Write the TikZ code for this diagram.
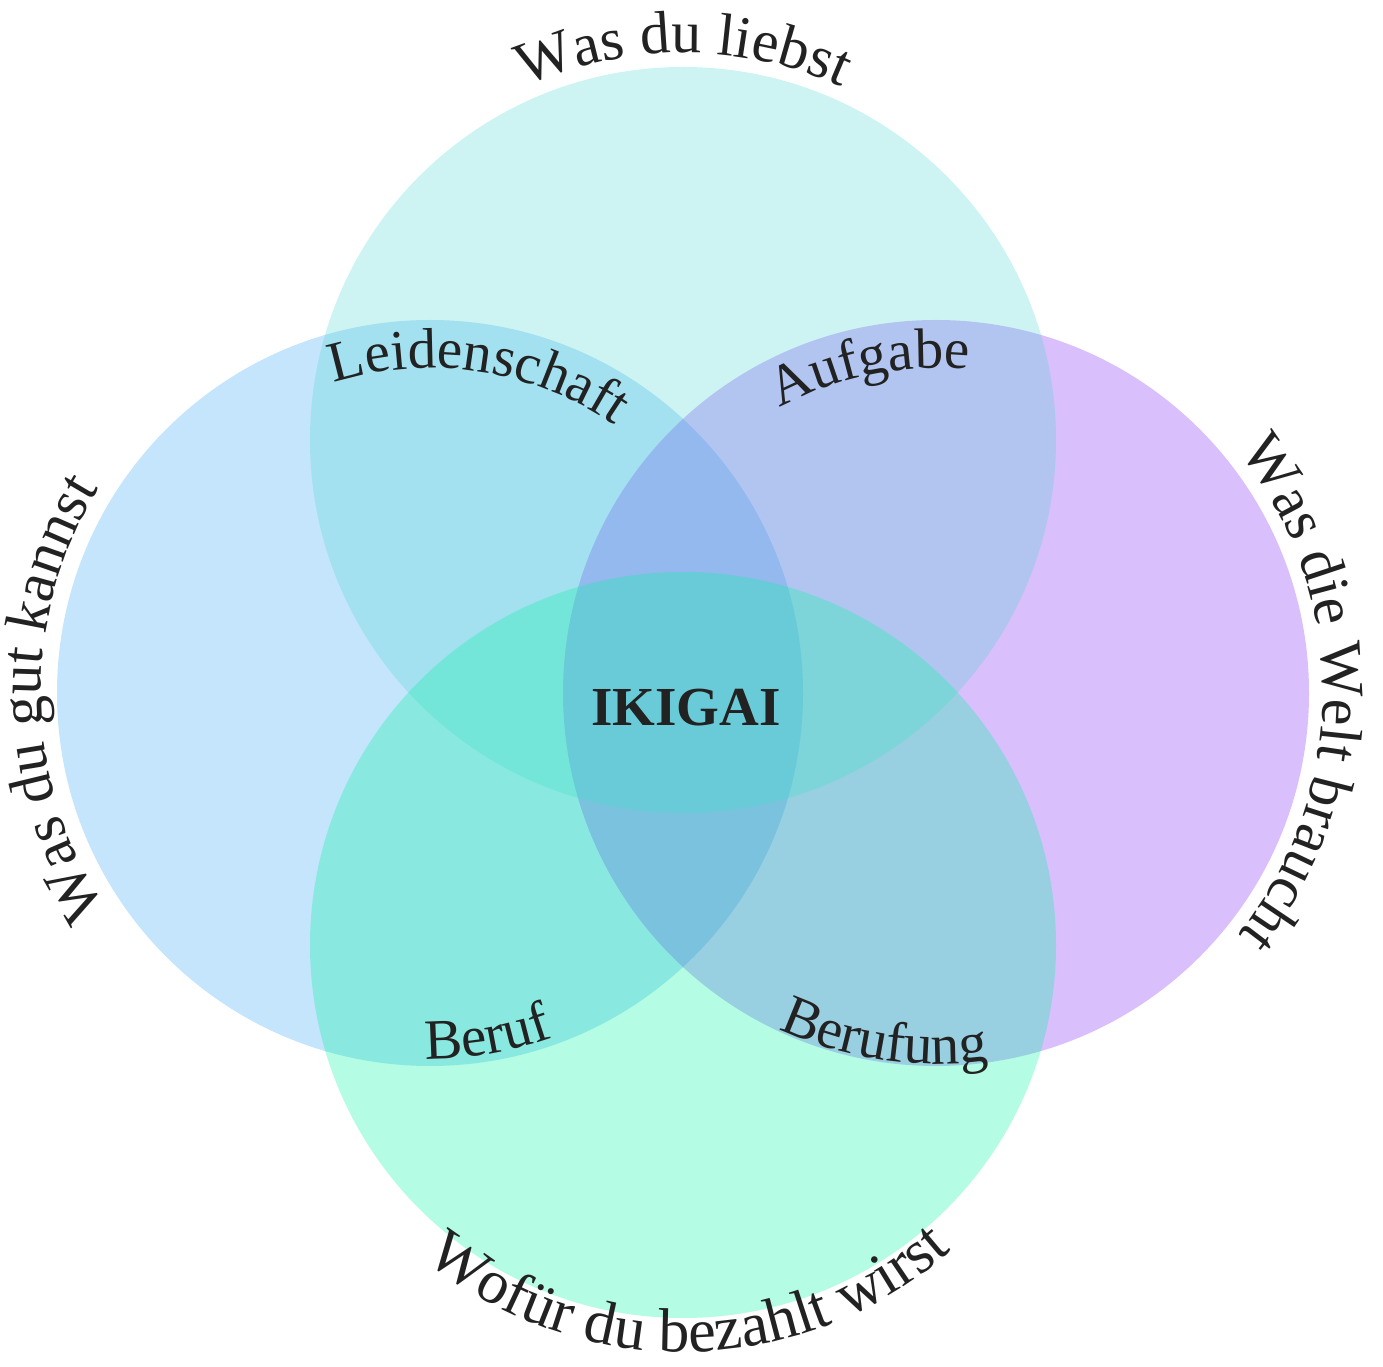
\documentclass[tikz,border=0pt]{standalone}
\usepackage{fontspec}
\setmainfont{Liberation Serif}
\usetikzlibrary{decorations.text}
\definecolor{ctop}{RGB}{88,215,215}
\definecolor{cleft}{RGB}{58,168,242}
\definecolor{cright}{RGB}{128,42,242}
\definecolor{cbottom}{RGB}{5,245,165}
\definecolor{txt}{RGB}{34,34,34}
\newcommand\outerfont{\fontsize{60}{72}\selectfont}
\newcommand\bottomfont{\fontsize{62}{74}\selectfont}
\newcommand\innerfont{\fontsize{57}{68}\selectfont}
\tikzset{
  venn/.style={fill opacity=0.3, draw=none},
  curvetext/.style={decorate, decoration={text along path, text align=center, text color=txt, text={#1}}}
}
\begin{document}
\begin{tikzpicture}[x=1pt,y=1pt]
\useasboundingbox (0,0) rectangle (1383,1366);
\coordinate (T) at (683,926);
\coordinate (L) at (430,673);
\coordinate (R) at (936,673);
\coordinate (B) at (683,421);
% circles
\fill[venn, fill=cleft] (L) circle[radius=373];
\fill[venn, fill=cright] (R) circle[radius=373];
\fill[venn, fill=ctop] (T) circle[radius=373];
\fill[venn, fill=cbottom] (B) circle[radius=373];
% outer labels
\path[curvetext={|\outerfont|Was du liebst}] (T) ++(145:387) arc[start angle=145, end angle=35, radius=387];
\path[curvetext={|\outerfont|Was du gut kannst}] (L) ++(236:389) arc[start angle=236, end angle=126, radius=389];
\path[curvetext={|\outerfont|Was die Welt braucht}] (R) ++(55:387) arc[start angle=55, end angle=-55, radius=387];
\path[curvetext={|\bottomfont|Wofür du bezahlt wirst}] (B) ++(216:407) arc[start angle=216, end angle=326, radius=407];
% intersection labels
\path[curvetext={|\innerfont|Leidenschaft}] (L) ++(126.3:325) arc[start angle=126.3, end angle=36.3, radius=325];
\path[curvetext={|\innerfont|Aufgabe}] (R) ++(141.5:325) arc[start angle=141.5, end angle=61.5, radius=325];
\path[curvetext={|\innerfont|Beruf}] (L) ++(239.5:366) arc[start angle=239.5, end angle=319.5, radius=366];
\path[curvetext={|\innerfont|Berufung}] (R) ++(221.5:371) arc[start angle=221.5, end angle=301.5, radius=371];
% center
\node[font=\fontsize{55}{66}\selectfont\bfseries, text=txt, anchor=base, inner sep=0pt] (ikigai) at (686,640) {IKIGAI};
\end{tikzpicture}
\end{document}
